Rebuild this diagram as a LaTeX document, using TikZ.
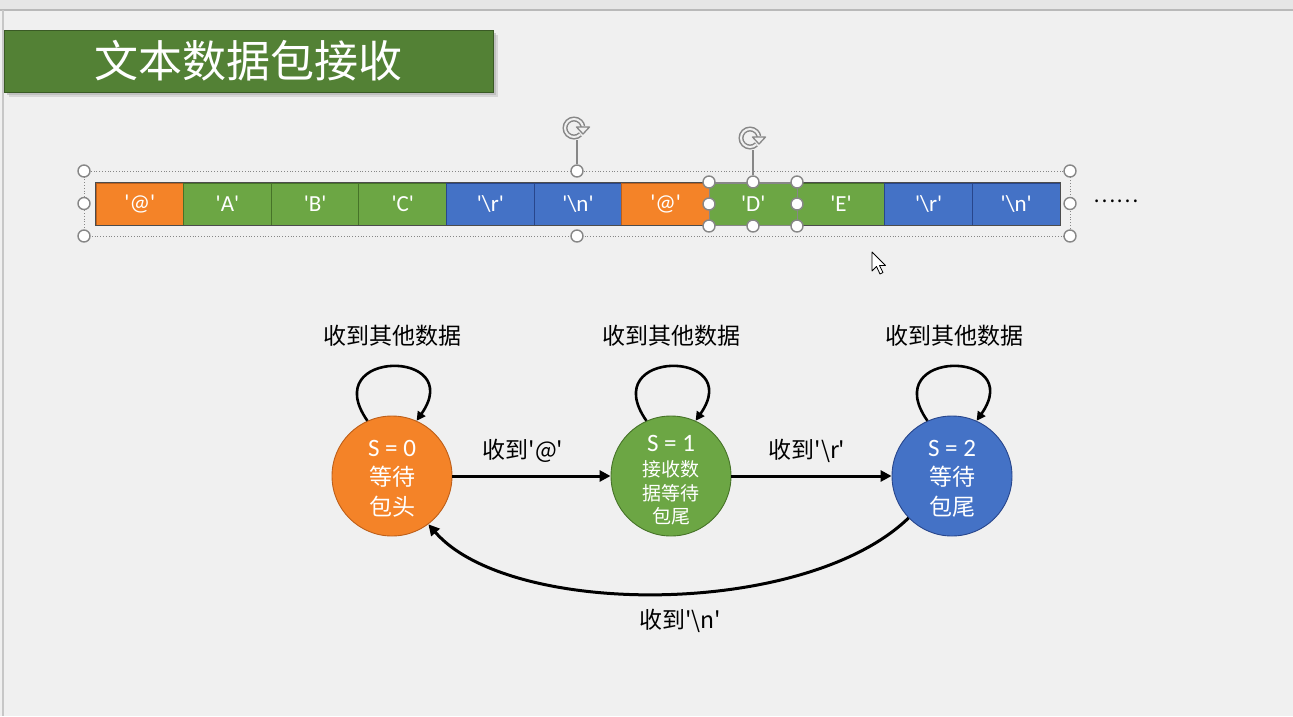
\documentclass[tikz,border=0pt]{standalone}
\usepackage{fontspec}
\newfontfamily\cjk{Noto Sans CJK SC}
\newfontfamily\lat{Carlito}
\usetikzlibrary{arrows.meta}
\definecolor{bgc}{RGB}{240,240,240}
\definecolor{bandc}{RGB}{230,230,230}
\definecolor{edgec}{RGB}{185,185,185}
\definecolor{titlec}{RGB}{83,129,53}
\definecolor{orng}{RGB}{244,131,40}
\definecolor{orngd}{RGB}{190,95,25}
\definecolor{grn}{RGB}{108,166,68}
\definecolor{grnd}{RGB}{70,115,40}
\definecolor{blu}{RGB}{68,114,198}
\definecolor{blud}{RGB}{40,70,140}
\definecolor{hdl}{RGB}{135,135,135}
\newcommand{\sq}{\textquotesingle}
\newcommand{\bs}{\textbackslash}
\tikzset{
  cellbox/.style={minimum width=87.64pt, minimum height=42pt, inner sep=0pt,
    text=white, line width=0.9pt, font=\lat\fontsize{23}{25}\selectfont},
  statebox/.style={circle, minimum size=120pt, inner sep=0pt, line width=0.9pt},
  statetext/.style={text=white, inner sep=0pt},
  lbl/.style={font=\cjk\fontsize{23}{26}\selectfont, text=black, inner sep=0pt},
  flow/.style={line width=3pt, -{Triangle[length=11pt,width=11pt]}},
  handle/.style={circle, fill=white, draw=hdl, line width=1.4pt, minimum size=12pt, inner sep=0pt},
  selframe/.style={draw=hdl, dotted, line width=0.8pt}
}
\begin{document}
\begin{tikzpicture}[x=1pt,y=-1pt]
\useasboundingbox (0,0) rectangle (1293,716);
% window background
\fill[bgc] (0,0) rectangle (1293,716);
\fill[bandc] (0,0) rectangle (1293,10);
\draw[edgec, line width=2pt] (0,10) -- (1293,10);
\draw[edgec!80, line width=2pt] (3,10) -- (3,716);

% title bar with soft shadow
\fill[black!25, opacity=0.5] (9,35) rectangle (498,97);
\fill[black!30, opacity=0.6] (7,33) rectangle (496,95);
\node[fill=titlec, draw=titlec!70!black, line width=0.6pt, minimum width=489pt, minimum height=62pt,
      inner sep=0pt, text=white, font=\cjk\fontsize{44}{48}\selectfont] (title) at (248.5,61) {文本数据包接收};

% packet byte strip
\foreach \i/\t/\c/\d in {1/@/orng/orngd, 2/A/grn/grnd, 3/B/grn/grnd, 4/C/grn/grnd,
    5/\bs r/blu/blud, 6/\bs n/blu/blud, 7/@/orng/orngd, 8/D/grn/hdl, 9/E/grn/grnd,
    10/\bs r/blu/blud, 11/\bs n/blu/blud}
  \node[cellbox, fill=\c, draw=\d] (c\i) at ({96+87.64*(\i-0.5)},204) {\sq\t\sq};
\draw[black!70, line width=0.8pt] (c1.north west) rectangle (c11.south east);
\draw[hdl, line width=1pt] (c8.north west) rectangle (c8.south east);
\node[font=\cjk\fontsize{21}{22}\selectfont, inner sep=0pt] (more) at (1116,201) {……};

% selection frame of the strip
\draw[selframe] (84,171) rectangle (1070,236);
\foreach \x/\y/\n in {84/171/a, 577/171/b, 1070/171/c, 84/203.5/d, 1070/203.5/e, 84/236/f, 577/236/g, 1070/236/h}
  \node[handle] (h\n) at (\x,\y) {};
\coordinate (rotA) at (574,128);
\draw[hdl, line width=1.2pt] (577,140) -- (hb);
% selection of byte D
\foreach \x/\y/\n in {709/182/a, 753/182/b, 797/182/c, 709/204/d, 797/204/e, 709/226/f, 753/226/g, 797/226/h}
  \node[handle] (k\n) at (\x,\y) {};
\coordinate (rotB) at (750,138);
\draw[hdl, line width=1.2pt] (753,150) -- (kb);
% rotation handles: hollow ring turning clockwise, arrow head on the right
\foreach \p in {rotA, rotB} {
  \draw[hdl, line width=5pt] ([shift={(-45:9pt)}]\p) arc[start angle=-45, end angle=-350, radius=9pt];
  \draw[bgc, line width=2pt] ([shift={(-45:9pt)}]\p) arc[start angle=-45, end angle=-350, radius=9pt];
  \draw[hdl, fill=bgc, line width=1.3pt, line join=round]
    ([shift={(2.5pt,1pt)}]\p) -- ([shift={(15.5pt,1pt)}]\p) -- ([shift={(9pt,-6pt)}]\p) -- cycle;
}

% mouse pointer
\draw[black, fill=white, line width=0.8pt, line join=round]
  (872,252) -- (872,271) -- (876.5,266.5) -- (880,274) -- (883,272.5) -- (879.5,265.5) -- (885.5,265.5) -- cycle;

% state machine
\node[statebox, fill=orng, draw=orngd] (s0) at (392,476) {};
\node[statebox, fill=grn, draw=grnd] (s1) at (671,476) {};
\node[statebox, fill=blu, draw=blud] (s2) at (952,476) {};

\node[statetext, font=\lat\fontsize{25}{27}\selectfont] (s0a) at (392,448) {S = 0};
\node[statetext, font=\cjk\fontsize{23}{26}\selectfont] (s0b) at (392,477) {等待};
\node[statetext, font=\cjk\fontsize{23}{26}\selectfont] (s0c) at (392,507) {包头};

\node[statetext, font=\lat\fontsize{25}{27}\selectfont] (s1a) at (671,443) {S = 1};
\node[statetext, font=\cjk\fontsize{19}{22}\selectfont] (s1b) at (671,469) {接收数};
\node[statetext, font=\cjk\fontsize{19}{22}\selectfont] (s1c) at (671,493) {据等待};
\node[statetext, font=\cjk\fontsize{19}{22}\selectfont] (s1d) at (671,516) {包尾};

\node[statetext, font=\lat\fontsize{25}{27}\selectfont] (s2a) at (952,448) {S = 2};
\node[statetext, font=\cjk\fontsize{23}{26}\selectfont] (s2b) at (952,477) {等待};
\node[statetext, font=\cjk\fontsize{23}{26}\selectfont] (s2c) at (952,507) {包尾};

% self loops
\foreach \s in {s0, s1, s2}
  \draw[line width=2.6pt, -{Triangle[length=9pt,width=9pt]}]
    (\s.114) .. controls +(125:88pt) and +(55:88pt) .. (\s.66);
\node[lbl] (l0) at (392,336) {收到其他数据};
\node[lbl] (l1) at (671,336) {收到其他数据};
\node[lbl] (l2) at (954,336) {收到其他数据};

% transitions
\draw[flow] (s0) -- (s1);
\draw[flow] (s1) -- (s2);
\draw[flow] (s2.224) .. controls (805,618) and (510,618) .. (s0.307);
\node[lbl] (t01) at (523,451) {收到\sq @\sq};
\node[lbl] (t12) at (807,451) {收到\sq\bs r\sq};
\node[lbl] (t20) at (680,621) {收到\sq\bs n\sq};
\end{tikzpicture}
\end{document}
